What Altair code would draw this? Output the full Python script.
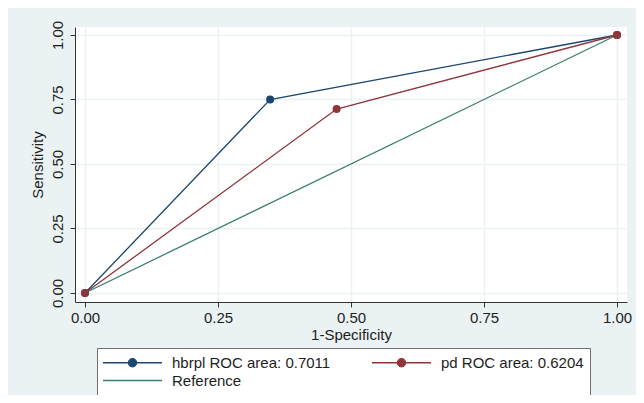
import altair as alt
import pandas as pd

# ---- data ----
series_names = ["hbrpl ROC area: 0.7011", "pd ROC area: 0.6204", "Reference"]
hbrpl_fpr = [0.0, 0.348, 1.0]
hbrpl_tpr = [0.0, 0.75, 1.0]
pd_fpr = [0.0, 0.473, 1.0]
pd_tpr = [0.0, 0.713, 1.0]
ref_fpr = [0.0, 1.0]
ref_tpr = [0.0, 1.0]
tick_values = [0.0, 0.25, 0.5, 0.75, 1.0]
colors = ["#1A476F", "#90353B", "#3B7F70"]

rows = []
for name, xs, ys in [(series_names[0], hbrpl_fpr, hbrpl_tpr),
                     (series_names[1], pd_fpr, pd_tpr),
                     (series_names[2], ref_fpr, ref_tpr)]:
    for i, (a, b) in enumerate(zip(xs, ys)):
        rows.append({"fpr": a, "tpr": b, "series": name, "ord": i})
df = pd.DataFrame(rows)

FONT = "Liberation Sans"
TXT = "#1e1e1e"
BG = "#EAF2F3"

xscale = alt.Scale(domain=[-0.0188, 1.0188], nice=False, zero=False)
yscale = alt.Scale(domain=[-0.0349, 1.031], nice=False, zero=False)

x_enc = alt.X("fpr:Q", scale=xscale,
              axis=alt.Axis(values=tick_values, format=".2f", title="1-Specificity",
                            labelPadding=3, titlePadding=2, tickSize=5))
y_enc = alt.Y("tpr:Q", scale=yscale,
              axis=alt.Axis(values=tick_values, format=".2f", title="Sensitivity",
                            labelAngle=270, labelAlign="center", labelBaseline="bottom",
                            labelPadding=5, titlePadding=5, tickSize=5))

stroke_scale = alt.Scale(domain=series_names, range=colors)
fill_scale = alt.Scale(domain=series_names, range=colors)

line_circle = "M-4,0L4,0M0.55,0A0.55,0.55,0,1,1,-0.55,0A0.55,0.55,0,1,1,0.55,0Z"
line_only = "M-4,0L4,0"
shape_scale = alt.Scale(domain=series_names, range=[line_circle, line_circle, line_only])

legend = alt.Legend(
    title=None, orient="none", legendX=22, legendY=321, columns=2, direction="horizontal",
    gridAlign="all",
    labelFont=FONT, labelFontSize=15, labelColor=TXT, labelLimit=0,
    symbolSize=218, symbolStrokeWidth=1.3, symbolOffset=21, labelOffset=31,
    padding=6, strokeColor="#6e6e6e", fillColor="white", cornerRadius=0,
    rowPadding=1, columnPadding=38,
)

base = alt.Chart(df)

legend_layer = base.transform_filter("false").mark_point(filled=True, opacity=1).encode(
    fill=alt.Fill("series:N", scale=fill_scale, legend=legend),
    stroke=alt.Stroke("series:N", scale=stroke_scale, legend=legend),
    shape=alt.Shape("series:N", scale=shape_scale, legend=legend),
)

lines = base.mark_line(strokeWidth=1.3).encode(
    x=x_enc, y=y_enc,
    stroke=alt.Stroke("series:N", scale=stroke_scale, legend=legend),
    order="ord:Q",
)

points = base.transform_filter(alt.datum.series != "Reference").mark_point(
    filled=True, size=64, opacity=1, strokeWidth=0
).encode(
    x=x_enc, y=y_enc,
    fill=alt.Fill("series:N", scale=fill_scale, legend=legend),
)

chart = alt.layer(legend_layer, lines, points).properties(
    width=552, height=275,
    autosize=alt.AutoSizeParams(type="none"),
    padding={"left": 67, "top": 19, "right": 9, "bottom": 93},
    background=BG,
    view=alt.ViewBackground(fill="white", strokeWidth=0),
).configure_view(
    fill="white", strokeWidth=0
).configure_axis(
    labelFont=FONT, labelFontSize=15, labelColor=TXT,
    titleFont=FONT, titleFontSize=15, titleColor=TXT, titleFontWeight="normal",
    domainColor="#333333", domainWidth=1, tickColor="#333333", tickWidth=1,
    gridColor=BG, gridWidth=1.6, gridOpacity=1,
)

chart.save("out.html", embed_options={"renderer": "svg", "actions": False})
